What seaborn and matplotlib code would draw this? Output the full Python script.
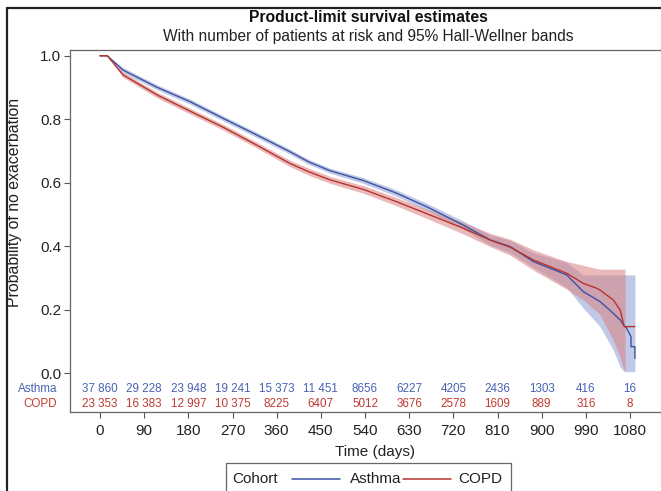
import numpy as np
import pandas as pd
import seaborn as sns
import matplotlib.pyplot as plt
from matplotlib.lines import Line2D
from matplotlib.patches import Rectangle
from matplotlib.transforms import blended_transform_factory

# survival curves (day, S(t), Hall-Wellner band)
asthma_days = [0, 15, 47, 116, 183, 251, 319, 387, 425, 469, 537, 605, 672, 740, 795, 836,
               883, 951, 985, 1019, 1046, 1060, 1068, 1073, 1082, 1082, 1090, 1090]
asthma_surv = [1.0, 1.0, 0.955, 0.901, 0.856, 0.803, 0.751, 0.698, 0.666, 0.638, 0.607, 0.567,
               0.520, 0.467, 0.420, 0.399, 0.352, 0.310, 0.257, 0.226, 0.189, 0.168, 0.150,
               0.143, 0.115, 0.084, 0.084, 0.047]
asthma_lower = [1.0, 1.0, 0.947, 0.893, 0.848, 0.795, 0.743, 0.690, 0.658, 0.630, 0.598, 0.557,
                0.509, 0.454, 0.404, 0.379, 0.334, 0.270, 0.205, 0.147, 0.073, 0.020, 0.005,
                0.005, 0.005, 0.005, 0.005, 0.005]
asthma_upper = [1.0, 1.0, 0.963, 0.909, 0.864, 0.811, 0.759, 0.706, 0.674, 0.646, 0.616, 0.577,
                0.531, 0.480, 0.436, 0.419, 0.379, 0.350, 0.310, 0.310, 0.310, 0.310, 0.310,
                0.310, 0.310, 0.310, 0.310, 0.310]

copd_days = [0, 15, 47, 116, 183, 251, 319, 387, 425, 469, 537, 605, 672, 740, 795, 836,
             883, 951, 985, 1012, 1019, 1046, 1060, 1068, 1070, 1070, 1090]
copd_surv = [1.0, 1.0, 0.940, 0.877, 0.826, 0.775, 0.719, 0.661, 0.635, 0.609, 0.579, 0.540,
             0.499, 0.457, 0.420, 0.397, 0.357, 0.315, 0.283, 0.268, 0.262, 0.231, 0.199,
             0.147, 0.147, 0.147, 0.147]
copd_lower = [1.0, 1.0, 0.932, 0.868, 0.817, 0.766, 0.710, 0.651, 0.624, 0.598, 0.567, 0.527,
              0.484, 0.439, 0.399, 0.372, 0.325, 0.265, 0.231, 0.195, 0.184, 0.105, 0.050,
              0.010, 0.010, 0.147, 0.147]
copd_upper = [1.0, 1.0, 0.948, 0.886, 0.835, 0.784, 0.728, 0.671, 0.646, 0.620, 0.591, 0.553,
              0.514, 0.475, 0.441, 0.422, 0.389, 0.352, 0.340, 0.330, 0.328, 0.328, 0.328,
              0.328, 0.328, 0.147, 0.147]

# numbers at risk
risk_days = [0, 90, 180, 270, 360, 450, 540, 630, 720, 810, 900, 990, 1080]
asthma_risk = [37860, 29228, 23948, 19241, 15373, 11451, 8656, 6227, 4205, 2436, 1303, 416, 16]
copd_risk = [23353, 16383, 12997, 10375, 8225, 6407, 5012, 3676, 2578, 1609, 889, 316, 8]

cohorts = ["Asthma", "COPD"]
blue, red = "#3B53A4", "#B8332B"
blue_txt, red_txt = "#4862B4", "#C23A30"
palette = {"Asthma": blue, "COPD": red}

df = pd.concat([
    pd.DataFrame({"day": asthma_days, "surv": asthma_surv, "cohort": "Asthma"}),
    pd.DataFrame({"day": copd_days, "surv": copd_surv, "cohort": "COPD"}),
], ignore_index=True)

sns.set_theme(style="white")
plt.rcParams["font.family"] = ["Liberation Sans", "DejaVu Sans"]

W, H = 661, 491
fig = plt.figure(figsize=(W / 100, H / 100), dpi=100)
# axes frame runs past the right edge as in the cropped original
left, right, top, bottom = 69.5, 680, 50.5, 411.7
ax = fig.add_axes([left / W, 1 - bottom / H, (right - left) / W, (bottom - top) / H])

# x: day 0 at px 100, day 1080 at px 630
px_per_day = 530 / 1080
ax.set_xlim((left - 100) / px_per_day, (right - 100) / px_per_day)
# y: 1.0 at px 55.8, 0.0 at px 373.3
px_per_unit = 317.5
ax.set_ylim(-(bottom - 373.3) / px_per_unit, 1 + (55.8 - top) / px_per_unit)

ax.fill_between(asthma_days, asthma_lower, asthma_upper, color="#8E9ED3", alpha=0.55, lw=0)
ax.fill_between(copd_days, copd_lower, copd_upper, color="#D98080", alpha=0.55, lw=0)

sns.lineplot(data=df, x="day", y="surv", hue="cohort", palette=palette, estimator=None,
             sort=False, lw=1.0, legend=False, ax=ax)

ax.set_xticks(risk_days)
ax.set_yticks([0, 0.2, 0.4, 0.6, 0.8, 1.0])
ax.set_yticklabels(["0.0", "0.2", "0.4", "0.6", "0.8", "1.0"])
ax.tick_params(axis="both", direction="out", length=4, width=0.8, color="#555555",
               labelsize=11, labelcolor="#222222", pad=2,
               bottom=True, left=True)
ax.tick_params(axis="x", pad=5)
ax.set_xlabel("Time (days)", fontsize=11, color="#222222", labelpad=5)
ax.set_ylabel("")
ax.spines["right"].set_visible(False)
for s in ax.spines.values():
    s.set_color("#666666")
    s.set_linewidth(0.9)


def fmt(n):
    return f"{n:,}".replace(",", " ") if n >= 10000 else str(n)


for d, a, c in zip(risk_days, asthma_risk, copd_risk):
    ax.text(d, -0.05, fmt(a), color=blue_txt, fontsize=8.4, ha="center", va="center")
    ax.text(d, -0.096, fmt(c), color=red_txt, fontsize=8.4, ha="center", va="center")

trans = blended_transform_factory(fig.transFigure, ax.transData)
ax.text(57 / W, -0.05, "Asthma", color=blue_txt, fontsize=8.4, ha="right", va="center",
        transform=trans, clip_on=False)
ax.text(57 / W, -0.096, "COPD", color=red_txt, fontsize=8.4, ha="right", va="center",
        transform=trans, clip_on=False)

fig.text(15 / W, 1 - 202 / H, "Probability of no exacerbation", rotation=90,
         ha="center", va="center", fontsize=11.4, color="#222222")

fig.text(368 / W, 1 - 18 / H, "Product-limit survival estimates", ha="center", va="center",
         fontsize=11.3, fontweight="bold", color="#111111")
fig.text(368 / W, 1 - 37 / H, "With number of patients at risk and 95% Hall-Wellner bands",
         ha="center", va="center", fontsize=11.2, color="#222222")

# legend box at the bottom (cut by the image edge)
fig.add_artist(Rectangle((226 / W, -0.02), (511 - 226) / W, (1 - 463 / H) + 0.02,
                         transform=fig.transFigure, fill=False, ec="#666666", lw=0.9))
ly = 1 - 479 / H
fig.text(232 / W, ly, "Cohort", ha="left", va="center", fontsize=11, color="#222222")
fig.add_artist(Line2D([292 / W, 340 / W], [ly, ly], color=blue, lw=1.1, transform=fig.transFigure))
fig.text(350 / W, ly, cohorts[0], ha="left", va="center", fontsize=11, color="#222222")
fig.add_artist(Line2D([403 / W, 451 / W], [ly, ly], color=red, lw=1.1, transform=fig.transFigure))
fig.text(458 / W, ly, cohorts[1], ha="left", va="center", fontsize=11, color="#222222")

# outer frame of the original graphic
fig.add_artist(Line2D([7 / W, 7 / W], [0, 1 - 8 / H], color="#222222", lw=1.6,
                      transform=fig.transFigure))
fig.add_artist(Line2D([7 / W, 1.0], [1 - 8 / H, 1 - 8 / H], color="#222222", lw=1.6,
                      transform=fig.transFigure))

fig.savefig("out.png", dpi=100)
